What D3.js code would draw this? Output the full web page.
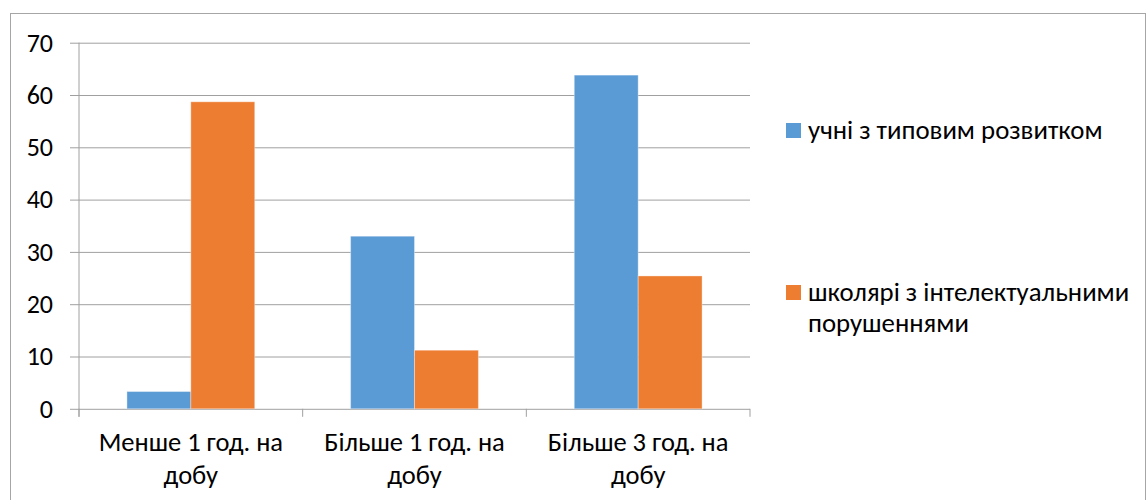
<!DOCTYPE html>
<html>
<head>
<meta charset="utf-8">
<script src="https://cdn.jsdelivr.net/npm/d3@7"></script>
<style>
  html, body { margin: 0; padding: 0; background: #fff; }
  svg { display: block; }
  text { font-family: Carlito, Calibri, Lato, sans-serif; fill: #000; }
</style>
</head>
<body>
<svg id="chart" width="1147" height="500"></svg>
<script>
// Screen time per day, % of pupils in each group
const categories = [["Менше 1 год. на", "добу"], ["Більше 1 год. на", "добу"], ["Більше 3 год. на", "добу"]];
const seriesNames = ["учні з типовим розвитком", "школярі з інтелектуальними порушеннями"];
const typicalValues = [3.3, 33.0, 63.8];
const impairedValues = [58.7, 11.2, 25.4];
const yTicks = [0, 10, 20, 30, 40, 50, 60, 70];
const colors = ["#5B9BD5", "#ED7D31"];

const svg = d3.select("#chart");
const plot = { left: 79, right: 750, top: 42.7, bottom: 408.8 };

// chart frame
svg.append("rect")
  .attr("x", 10.5).attr("y", 13.5)
  .attr("width", 1135).attr("height", 500)
  .attr("fill", "none").attr("stroke", "#a6a6a6").attr("stroke-width", 1);

const catKeys = categories.map(c => c.join(" "));
const x0 = d3.scaleBand().domain(catKeys).range([plot.left, plot.right]).padding(0);
const x1 = d3.scaleBand().domain(seriesNames).range([0, x0.bandwidth()]).paddingInner(0).paddingOuter(0.75);
const y = d3.scaleLinear().domain([0, 70]).range([plot.bottom, plot.top]);

// horizontal gridlines + y axis
const yAxis = d3.axisLeft(y).tickValues(yTicks).tickSize(plot.right - plot.left + 9).tickPadding(17);
const gy = svg.append("g").attr("transform", `translate(${plot.right},0)`).call(yAxis);
gy.select(".domain").remove();
gy.selectAll(".tick line").attr("stroke", "#a0a0a0").attr("stroke-width", 1);
gy.selectAll(".tick text").attr("font-size", 26).attr("font-family", "Carlito, Calibri, Lato, sans-serif").attr("fill", "#000");

// vertical axis line
svg.append("line")
  .attr("x1", plot.left).attr("x2", plot.left)
  .attr("y1", plot.top).attr("y2", plot.bottom + 8)
  .attr("stroke", "#a0a0a0");

// category ticks below baseline
const boundaries = catKeys.map(k => x0(k)).concat([plot.right]);
svg.selectAll("line.ctick").data(boundaries).join("line")
  .attr("class", "ctick")
  .attr("x1", d => d).attr("x2", d => d)
  .attr("y1", plot.bottom).attr("y2", plot.bottom + 8)
  .attr("stroke", "#a0a0a0");

// bars
const rows = catKeys.map((k, i) => ({ key: k, values: [typicalValues[i], impairedValues[i]] }));
const groups = svg.selectAll("g.cat").data(rows).join("g")
  .attr("class", "cat")
  .attr("transform", d => `translate(${x0(d.key)},0)`);
groups.selectAll("rect").data(d => d.values.map((v, j) => ({ v, s: seriesNames[j], j }))).join("rect")
  .attr("x", d => x1(d.s))
  .attr("width", x1.bandwidth())
  .attr("y", d => y(d.v))
  .attr("height", d => y(0) - y(d.v))
  .attr("fill", d => colors[d.j])
  .attr("stroke", "#fff").attr("stroke-opacity", 0.35).attr("stroke-width", 1);

// category labels (two lines)
const labels = svg.selectAll("text.cat").data(categories).join("text")
  .attr("class", "cat")
  .attr("text-anchor", "middle")
  .attr("font-size", 26.5)
  .attr("x", (d, i) => x0(catKeys[i]) + x0.bandwidth() / 2)
  .attr("y", 451);
labels.selectAll("tspan").data(d => d).join("tspan")
  .attr("x", function () { return d3.select(this.parentNode).attr("x"); })
  .attr("dy", (d, i) => i === 0 ? 0 : 33)
  .text(d => d);

// legend
const legendItems = [
  { name: seriesNames[0], lines: ["учні з типовим розвитком"], y: 138.5 },
  { name: seriesNames[1], lines: ["школярі з інтелектуальними", "порушеннями"], y: 300.5 }
];
const lg = svg.selectAll("g.legend").data(legendItems).join("g").attr("class", "legend");
lg.append("rect")
  .attr("x", 786).attr("y", d => d.y - 15.5)
  .attr("width", 15).attr("height", 15)
  .attr("fill", (d, i) => colors[i]);
const lt = lg.append("text").attr("x", 808).attr("y", d => d.y).attr("font-size", 26.8);
lt.selectAll("tspan").data(d => d.lines).join("tspan")
  .attr("x", 808).attr("dy", (d, i) => i === 0 ? 0 : 31)
  .text(d => d);
</script>
</body>
</html>
